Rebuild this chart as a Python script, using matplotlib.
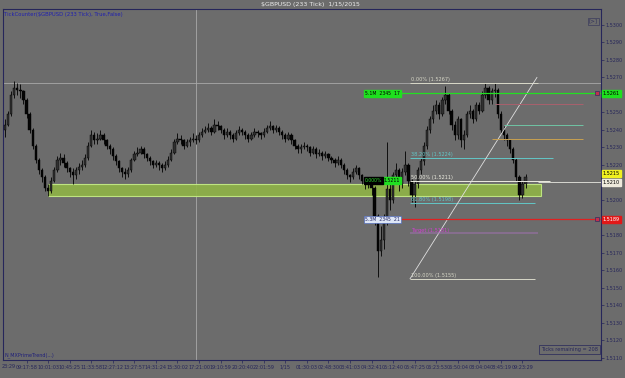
import matplotlib
matplotlib.use('Agg')
import matplotlib.pyplot as plt
from matplotlib.patches import Rectangle

# 233 tick bars, prices in pips above 1.5000
close_pips = [243, 249, 260, 264, 263, 262, 257, 249, 240, 231,
              223, 217, 213, 207, 205, 211, 217, 223, 224, 221,
              218, 216, 214, 217, 219, 220, 224, 231, 237, 234,
              235, 237, 234, 231, 229, 225, 222, 218, 216, 215,
              217, 223, 226, 227, 229, 226, 224, 222, 220, 221,
              220, 218, 220, 223, 227, 233, 235, 234, 231, 233,
              234, 235, 234, 237, 239, 240, 241, 239, 243, 242,
              240, 237, 239, 237, 235, 238, 240, 239, 237, 235,
              237, 239, 238, 237, 239, 241, 242, 240, 241, 239,
              237, 235, 237, 234, 231, 229, 230, 231, 230, 227,
              229, 226, 227, 225, 226, 224, 223, 221, 223, 220,
              217, 214, 213, 216, 218, 214, 211, 209, 210, 207,
              191, 171, 177, 189, 206, 200, 214, 217, 209, 216,
              220, 211, 203, 209, 217, 222, 231, 240, 246, 251,
              254, 249, 257, 260, 251, 243, 237, 246, 234, 237,
              249, 251, 246, 254, 251, 260, 264, 257, 262, 263,
              249, 240, 237, 234, 229, 223, 213, 203, 209, 213]
high_pips = [246, 251, 262, 268, 267, 266, 263, 258, 250, 241,
             232, 224, 218, 214, 209, 213, 219, 225, 227, 226,
             222, 219, 218, 219, 221, 223, 226, 233, 240, 239,
             238, 240, 238, 235, 232, 230, 226, 223, 219, 218,
             219, 224, 228, 230, 231, 230, 227, 225, 223, 223,
             222, 221, 222, 225, 229, 235, 238, 237, 235, 235,
             236, 238, 237, 239, 241, 242, 244, 242, 246, 245,
             243, 241, 241, 240, 238, 240, 242, 241, 240, 238,
             239, 241, 240, 239, 241, 243, 245, 243, 243, 242,
             240, 238, 239, 238, 235, 232, 232, 233, 232, 231,
             231, 230, 229, 228, 228, 227, 225, 224, 225, 224,
             221, 218, 215, 218, 220, 219, 215, 212, 213, 211,
             208, 192, 185, 192, 233, 210, 216, 221, 218, 218,
             228, 221, 212, 211, 219, 224, 233, 242, 248, 254,
             257, 256, 259, 265, 261, 252, 245, 248, 247, 240,
             251, 254, 252, 256, 256, 262, 267, 265, 264, 267,
             264, 251, 242, 238, 235, 230, 224, 214, 211, 215]
low_pips = [236, 242, 248, 258, 260, 258, 255, 247, 238, 229,
            221, 215, 210, 205, 202, 204, 210, 216, 220, 219,
            216, 213, 209, 212, 215, 217, 219, 223, 230, 232,
            232, 234, 232, 229, 226, 223, 220, 216, 213, 212,
            213, 216, 222, 225, 226, 224, 222, 220, 218, 219,
            217, 216, 217, 219, 222, 226, 232, 232, 229, 230,
            231, 233, 232, 233, 236, 238, 239, 237, 238, 240,
            238, 235, 236, 235, 233, 234, 237, 237, 235, 233,
            234, 236, 236, 235, 236, 238, 240, 238, 239, 237,
            235, 233, 234, 232, 229, 227, 227, 229, 228, 225,
            226, 224, 225, 223, 224, 222, 221, 219, 220, 218,
            215, 212, 210, 212, 215, 212, 209, 206, 207, 203,
            186, 156, 168, 172, 186, 194, 198, 212, 205, 207,
            214, 208, 199, 196, 207, 215, 220, 229, 238, 244,
            249, 246, 248, 255, 249, 240, 234, 235, 230, 229,
            236, 247, 244, 245, 249, 250, 258, 255, 255, 259,
            247, 238, 234, 231, 227, 221, 211, 200, 201, 207]
first_open_pips = 240

# first time label sits clipped at the left edge, drawn on its own
first_time_label = "23:29"
x_tick_bars = [7, 14, 21, 28, 35, 42, 49, 56, 63, 70, 77, 84, 91,
               98, 105, 112, 119, 126, 133, 140, 147, 154, 161, 168]
x_tick_labels = ["09:17:58", "10:01:03", "10:45:25", "11:33:58", "12:27:12",
                 "13:27:57", "14:31:24", "15:30:02", "17:21:00", "19:10:59", "20:20:40",
                 "22:01:59", "1/15", "01:30:03", "02:48:30", "03:41:03", "04:32:41",
                 "05:12:40", "05:47:25", "06:23:53", "06:50:04", "08:04:04", "08:45:19",
                 "09:23:29"]
# tick labels hidden behind the price markers are left out
y_ticks = [1.5300, 1.5290, 1.5280, 1.5270, 1.5250, 1.5240, 1.5230, 1.5220,
           1.5200, 1.5180, 1.5170, 1.5160, 1.5150, 1.5140, 1.5130, 1.5120, 1.5110]

# drawing objects
zone_low, zone_high = 1.5202, 1.5209
zone_start, zone_end = 14, 174
fib_names = ["0.00%", "38.20%", "50.00%", "61.80%", "100.00%"]
fib_prices = [1.5267, 1.5224, 1.5211, 1.5198, 1.5155]
fib_colors = ['#d8d8c8', '#62c6c6', '#ecece0', '#62c6c6', '#d8d8c8']
fib_ends = [173, 178, 177, 172, 172]
fib_start = 131.5
trend_x = [131.5, 172.7]
trend_y = [1.5155, 1.5270]
level_prices = [1.5255, 1.5243, 1.5235]
level_colors = ['#a8606c', '#70c4a4', '#c8a050']
level_starts = [159, 162, 158]
target_price = 1.5181
high_line = 1.5267
vline_bar = 62
green_price, red_price = 1.5261, 1.5189
bid_price, last_price = 1.5215, 1.5210

bg = '#6c6c6c'
navy = '#26265a'
x_right = 193.5

fig = plt.figure(figsize=(6.25, 3.78), dpi=100, facecolor=bg)
ax = fig.add_axes([3 / 625, 18 / 378, 598 / 625, 351 / 378])
ax.set_facecolor(bg)
ax.set_xlim(-0.65, x_right)
ax.set_ylim(1.51086, 1.53091)

closes = [1.5 + p / 10000 for p in close_pips]
highs = [1.5 + p / 10000 for p in high_pips]
lows = [1.5 + p / 10000 for p in low_pips]
opens = [1.5 + first_open_pips / 10000] + closes[:-1]
idx = list(range(len(closes)))

# background objects
ax.axvline(vline_bar, color='#a8a8a8', lw=0.6, zorder=1)
ax.axhline(high_line, color='#a8a8a8', lw=0.6, zorder=1)
ax.add_patch(Rectangle((zone_start, zone_low), zone_end - zone_start, zone_high - zone_low,
                       facecolor='#8fb447', edgecolor='#c6ee86', lw=0.8, alpha=0.9, zorder=2))

# candles
bottoms = [min(o, c) for o, c in zip(opens, closes)]
heights = [max(abs(c - o), 0.00003) for o, c in zip(opens, closes)]
colors = ['#303030' if c >= o else '#050505' for o, c in zip(opens, closes)]
ax.vlines(idx, lows, highs, color='black', lw=0.6, zorder=3)
ax.bar(idx, heights, bottom=bottoms, width=0.75, color=colors, edgecolor='black', lw=0.3, zorder=4)

# fibonacci retracement
for name, price, col, end in zip(fib_names, fib_prices, fib_colors, fib_ends):
    ax.hlines(price, fib_start, end, color=col, lw=0.7, zorder=5)
    ax.text(fib_start + 0.3, price + 0.00006, f"{name} ({price:.4f})", color=col,
            fontsize=3.6, va='bottom', ha='left', zorder=6)
ax.plot(trend_x, trend_y, color='#e0e0e0', lw=0.6, zorder=5)
for price, col, start in zip(level_prices, level_colors, level_starts):
    ax.hlines(price, start, 187.7, color=col, lw=0.7, zorder=5)
ax.hlines(target_price, fib_start, 173, color='#a070b0', lw=1.2, alpha=0.6, zorder=5)
ax.text(fib_start + 0.3, target_price + 0.00004, f"Target ({target_price:.4f})", color='#d040d0',
        fontsize=3.6, va='bottom', ha='left', zorder=6)

# order lines
ax.hlines(green_price, 128.5, x_right, color='#22e022', lw=0.9, zorder=6)
ax.hlines(red_price, 128.5, x_right, color='#e02020', lw=0.9, zorder=6)
ax.hlines(last_price, 173, x_right, color='#e8e8e0', lw=0.6, zorder=6)
ax.text(128.3, green_price, "5.1M  2345  17", color='black', fontsize=3.3, ha='right', va='center',
        bbox=dict(boxstyle='square,pad=0.25', fc='#1ee01e', ec='#1ee01e'), zorder=7)
ax.text(128.3, red_price, "5.3M  2345  21", color='#202060', fontsize=3.3, ha='right', va='center',
        bbox=dict(boxstyle='square,pad=0.25', fc='#dde6f6', ec='#4060c0', lw=0.4), zorder=7)
ax.text(128.3, 1.52112, "1.5211", color='black', fontsize=3.3, ha='right', va='center',
        bbox=dict(boxstyle='square,pad=0.2', fc='#20e020', ec='#20e020'), zorder=7)
ax.text(122.5, 1.52112, "0.000%", color='#30e030', fontsize=3.3, ha='right', va='center',
        bbox=dict(boxstyle='square,pad=0.2', fc='black', ec='black'), zorder=7)
for price in [green_price, red_price]:
    ax.plot([192.2], [price], marker='s', ms=3.2, mfc='#c03050', mec='#303060', mew=0.5,
            zorder=8)

# right axis price markers
for price, fc, tc in [(green_price, '#1ee01e', 'black'), (bid_price, '#f0f020', 'black'),
                      (last_price, '#eeeadc', 'black'), (red_price, '#e01818', 'white')]:
    ax.annotate(f"{price:.4f}", xy=(1.003, price), xycoords=('axes fraction', 'data'),
                fontsize=3.5, color=tc, ha='left', va='center', annotation_clip=False,
                bbox=dict(boxstyle='square,pad=0.2', fc=fc, ec=fc), zorder=9)

# axes styling
ax.yaxis.tick_right()
ax.set_yticks(y_ticks)
ax.set_yticklabels([f"{v:.4f}" for v in y_ticks])
ax.set_xticks(x_tick_bars)
ax.set_xticklabels(x_tick_labels)
ax.tick_params(axis='both', labelsize=3.5, colors=navy, length=2, width=0.5, pad=1.5)
for s in ax.spines.values():
    s.set_color(navy)
    s.set_linewidth(0.8)
fig.text(1.5 / 625, 1 - 367 / 378, first_time_label, ha='left', va='center',
         fontsize=3.5, color=navy)

# texts
fig.text(310 / 625, 1 - 4.5 / 378, "$GBPUSD (233 Tick)  1/15/2015", ha='center', va='center',
         fontsize=4.5, color='#ececec')
ax.text(0.002, 0.992, "TickCounter($GBPUSD (233 Tick), True,False)", transform=ax.transAxes,
        fontsize=3.8, color='#2020b0', va='top', ha='left')
ax.text(0.002, 0.006, "N_MXPrimeTrend(...)", transform=ax.transAxes, fontsize=3.5,
        color='#20207a', va='bottom', ha='left')
ax.text(0.995, 0.022, "Ticks remaining = 208", transform=ax.transAxes, fontsize=3.6,
        color=navy, va='bottom', ha='right',
        bbox=dict(boxstyle='square,pad=0.4', fc=bg, ec=navy, lw=0.5))
ax.text(0.987, 0.965, "[>]", transform=ax.transAxes, fontsize=4, color='#30305a',
        va='center', ha='center', bbox=dict(boxstyle='square,pad=0.15', fc=bg, ec='#30305a', lw=0.4))

fig.savefig('out.png', dpi=100, facecolor=bg)
